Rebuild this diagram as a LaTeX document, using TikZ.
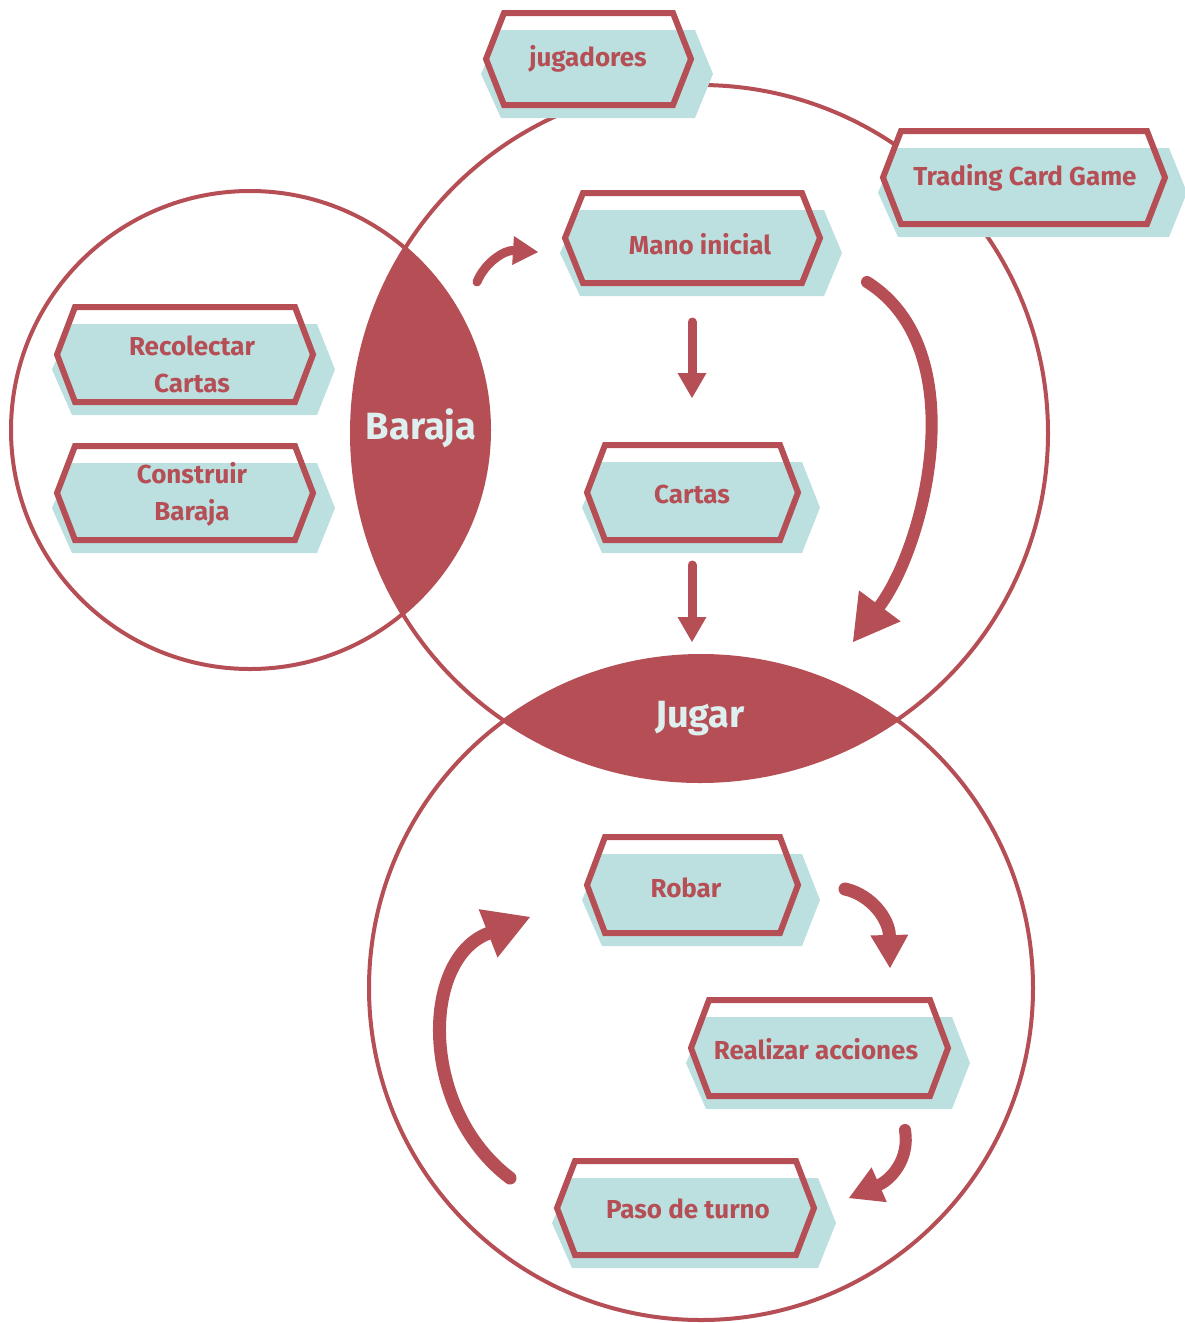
\documentclass[tikz,border=0pt]{standalone}
\usepackage{fontspec}
\setmainfont{Fira Sans}
\usetikzlibrary{arrows.meta}

\definecolor{deck}{RGB}{181,79,85}
\definecolor{mint}{RGB}{188,224,224}
\definecolor{pale}{RGB}{221,239,239}

\tikzset{
  ring/.style={draw=deck, line width=4pt},
  lenslabel/.style={text=pale, inner sep=0pt, font=\fontsize{38}{40}\selectfont\bfseries},
  boxlabel/.style={text=deck, inner sep=0pt, align=center, font=\fontsize{26}{37}\selectfont\bfseries},
  hexline/.style={draw=deck, line width=6pt, line join=miter},
  flow/.style={draw=deck, line width=#1, line cap=round},
  smalltip/.style={-{Triangle[length=25pt,width=29pt,line width=0pt]}},
  midtip/.style={-{Triangle[length=33pt,width=38pt,line width=0pt]}},
  bigtip/.style={-{Triangle[length=45pt,width=52pt,line width=0pt]}},
}

% hexagonal label frame: outer edges left, top, right, bottom
\newcommand\hexframe[4]{%
  \fill[white] ({#1+5},{(#2+#4)/2}) -- ({#1+23},{#2+3}) -- ({#3-23},{#2+3})
    -- ({#3-5},{(#2+#4)/2}) -- ({#3-23},{#4-3}) -- ({#1+23},{#4-3}) -- cycle;
  \fill[mint] ({#1},{(#2+#4)/2+15}) -- ({#1+20},{#2+20}) -- ({#3-1},{#2+20})
    -- ({#3+17},{(#2+#4)/2+15}) -- ({#3-1},{#4+10}) -- ({#1+20},{#4+10}) -- cycle;
  \draw[hexline] ({#1+5},{(#2+#4)/2}) -- ({#1+23},{#2+3}) -- ({#3-23},{#2+3})
    -- ({#3-5},{(#2+#4)/2}) -- ({#3-23},{#4-3}) -- ({#1+23},{#4-3}) -- cycle;
}

\begin{document}
\begin{tikzpicture}[x=1pt,y=-1pt]
\useasboundingbox (0,0) rectangle (1184,1323);

% three overlapping circles
\draw[ring] (250,430) circle[radius=239];
\draw[ring] (700,433) circle[radius=348];
\draw[ring] (701,988) circle[radius=332];

% shared regions
\begin{scope}
  \clip (250,430) circle[radius=239];
  \fill[deck] (700,433) circle[radius=348];
\end{scope}
\begin{scope}
  \clip (701,988) circle[radius=332];
  \fill[deck] (700,433) circle[radius=348];
\end{scope}
\node[lenslabel] (baraja) at (421,428) {Baraja};
\node[lenslabel] (jugar) at (700,719) {Jugar};

% labelled frames
\hexframe{481}{10}{696}{108}
\node[boxlabel] (jugadores) at (588,59) {jugadores};

\hexframe{878}{128}{1170}{227}
\node[boxlabel] (tcg) at (1025,178) {Trading Card Game};

\hexframe{560}{190}{825}{286}
\node[boxlabel] (mano) at (700,244) {Mano inicial};

\hexframe{52}{304}{318}{405}
\node[boxlabel] (recolectar) at (192,364) {Recolectar\\Cartas};

\hexframe{52}{443}{318}{543}
\node[boxlabel] (construir) at (192,494) {Construir\\Baraja};

\hexframe{582}{442}{803}{543}
\node[boxlabel] (cartas) at (692,494) {Cartas};

\hexframe{582}{834}{803}{936}
\node[boxlabel] (robar) at (686,888) {Robar};

\hexframe{686}{997}{953}{1099}
\node[boxlabel] (realizar) at (816,1049) {Realizar acciones};

\hexframe{552}{1158}{819}{1258}
\node[boxlabel] (paso) at (688,1209) {Paso de turno};

% arrow end points
\coordinate (deckout) at (477,282);
\coordinate (manoin) at (538,252);
\coordinate (manoout) at (692,322);
\coordinate (cartasin) at (692,398);
\coordinate (cartasout) at (692,565);
\coordinate (jugarin) at (692,642);
\coordinate (manoside) at (867,282);
\coordinate (jugarside) at (853,642);
\coordinate (robarout) at (845,889);
\coordinate (realizarin) at (890,968);
\coordinate (realizarout) at (905,1130);
\coordinate (pasoin) at (849,1198);
\coordinate (pasoout) at (510,1178);
\coordinate (robarin) at (530,917);

% flow arrows
\draw[flow=9pt, smalltip] (deckout) .. controls (485,262) and (505,250) .. (manoin);
\draw[flow=9pt, smalltip] (manoout) -- (cartasin);
\draw[flow=9pt, smalltip] (cartasout) -- (jugarin);
\draw[flow=12pt, bigtip] (manoside) .. controls (975,350) and (925,545) .. (jugarside);
\draw[flow=13pt, midtip] (robarout) .. controls (872,895) and (889,920) .. (realizarin);
\draw[flow=12pt, midtip] (realizarout) .. controls (910,1160) and (890,1180) .. (pasoin);
\draw[flow=13pt, bigtip] (pasoout) .. controls (420,1110) and (420,960) .. (robarin);
\end{tikzpicture}
\end{document}
